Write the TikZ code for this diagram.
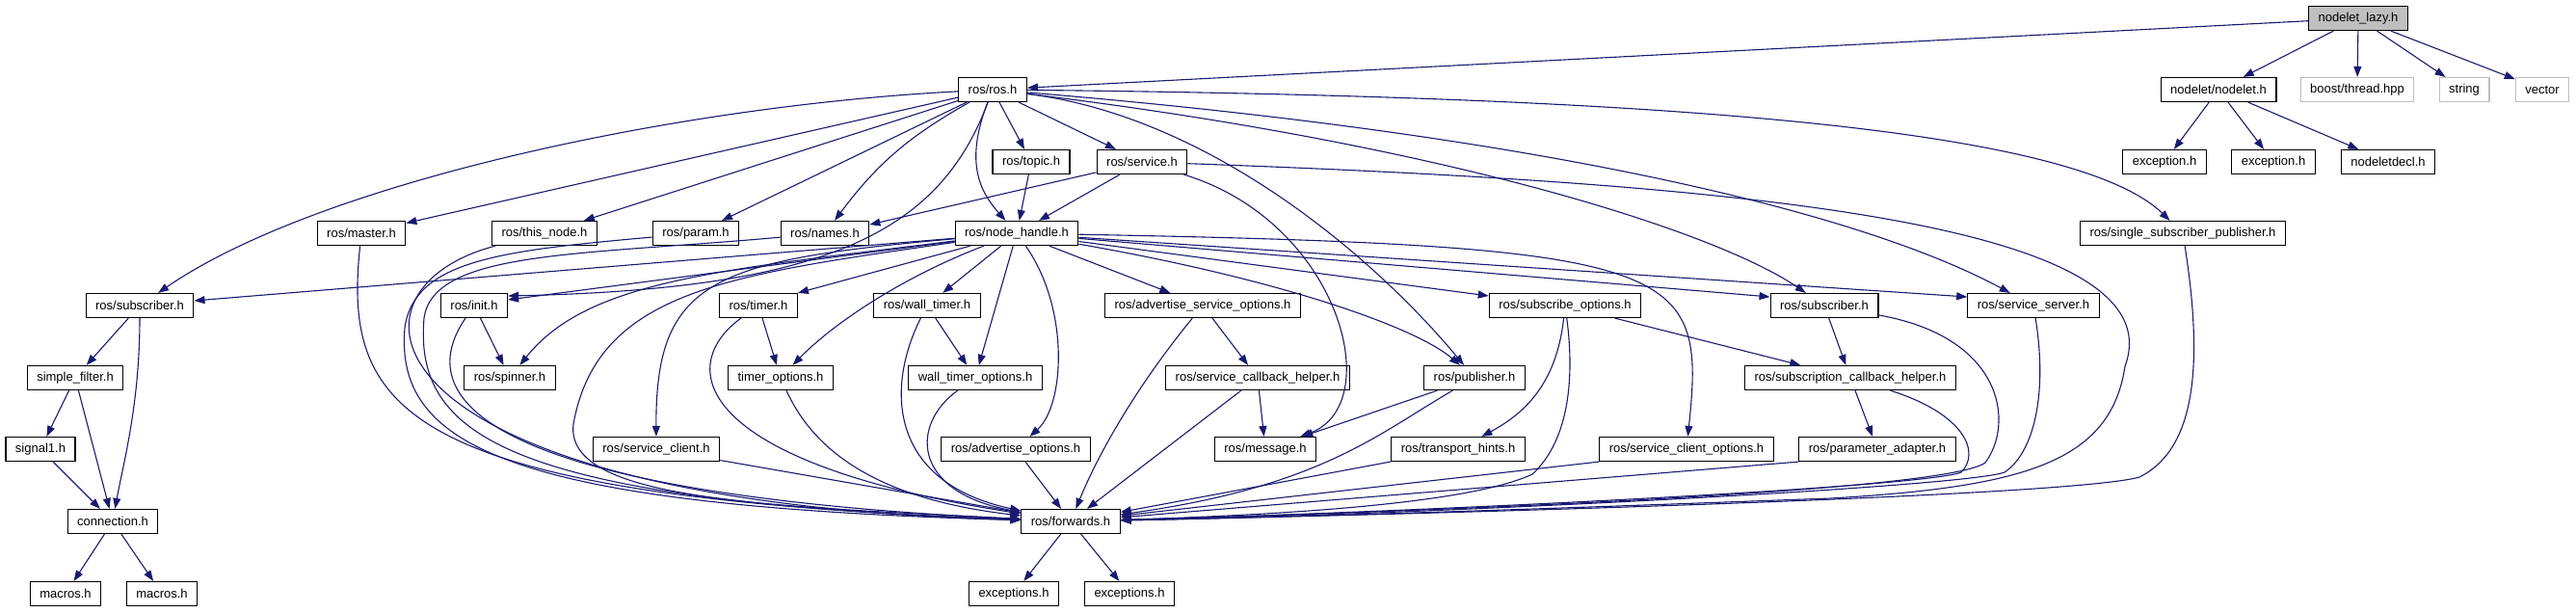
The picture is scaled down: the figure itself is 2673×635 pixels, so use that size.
\documentclass[tikz,border=0pt]{standalone}
\usepackage{fontspec}
\setmainfont{Liberation Sans}
\usetikzlibrary{arrows.meta}
\definecolor{edgeblue}{HTML}{191970}
\definecolor{boxgray}{HTML}{BFBFBF}
\begin{document}
\begin{tikzpicture}[x=1pt,y=1pt,
    file/.style={draw=black,line width=1.2pt,fill=white,inner xsep=10pt,inner ysep=0pt,minimum height=25pt,font=\fontsize{13}{15}\selectfont},
    extfile/.style={file,draw=boxgray},
    mainfile/.style={file,fill=boxgray},
    inc/.style={draw=edgeblue,line width=1.1pt,-{Triangle[length=11pt,width=8pt]}}]
    \useasboundingbox (0,0) rectangle (2673,-635);
    \node[mainfile] (lazy) at (2447,-19) {nodelet\_lazy.h};
    \node[file] (ros) at (1030,-93) {ros/ros.h};
    \node[file] (nodelet) at (2302,-93) {nodelet/nodelet.h};
    \node[extfile] (thread) at (2446,-93) {boost/thread.hpp};
    \node[extfile] (string) at (2557,-93) {string};
    \node[extfile] (vector) at (2638,-93) {vector};
    \node[file] (topic) at (1070,-168) {ros/topic.h};
    \node[file] (service) at (1185,-168) {ros/service.h};
    \node[file] (exca) at (2246,-168) {exception.h};
    \node[file] (excb) at (2359,-168) {exception.h};
    \node[file] (decl) at (2478,-168) {nodeletdecl.h};
    \node[file] (master) at (375,-242) {ros/master.h};
    \node[file] (thisnode) at (565,-242) {ros/this\_node.h};
    \node[file] (param) at (722,-242) {ros/param.h};
    \node[file] (names) at (856,-242) {ros/names.h};
    \node[file] (nh) at (1055,-242) {ros/node\_handle.h};
    \node[file] (ssp) at (2265,-242) {ros/single\_subscriber\_publisher.h};
    \node[file] (subl) at (145,-317) {ros/subscriber.h};
    \node[file] (init) at (492,-317) {ros/init.h};
    \node[file] (timer) at (787,-317) {ros/timer.h};
    \node[file] (walltimer) at (962,-317) {ros/wall\_timer.h};
    \node[file] (aso) at (1248,-317) {ros/advertise\_service\_options.h};
    \node[file] (subopt) at (1624,-317) {ros/subscribe\_options.h};
    \node[file] (subr) at (1893,-317) {ros/subscriber.h};
    \node[file] (server) at (2110,-317) {ros/service\_server.h};
    \node[file] (sfilter) at (78,-392) {simple\_filter.h};
    \node[file] (spinner) at (529,-392) {ros/spinner.h};
    \node[file] (timeropt) at (810,-392) {timer\_options.h};
    \node[file] (walltimeropt) at (1012,-392) {wall\_timer\_options.h};
    \node[file] (sch) at (1305,-392) {ros/service\_callback\_helper.h};
    \node[file] (pub) at (1530,-392) {ros/publisher.h};
    \node[file] (subcb) at (1920,-392) {ros/subscription\_callback\_helper.h};
    \node[file] (signal) at (42,-466) {signal1.h};
    \node[file] (client) at (681,-466) {ros/service\_client.h};
    \node[file] (advopt) at (1054,-466) {ros/advertise\_options.h};
    \node[file] (message) at (1313,-466) {ros/message.h};
    \node[file] (hints) at (1513,-466) {ros/transport\_hints.h};
    \node[file] (clientopt) at (1750,-466) {ros/service\_client\_options.h};
    \node[file] (padapter) at (1948,-466) {ros/parameter\_adapter.h};
    \node[file] (connection) at (117,-541) {connection.h};
    \node[file] (forwards) at (1111,-541) {ros/forwards.h};
    \node[file] (macrosa) at (68,-616) {macros.h};
    \node[file] (macrosb) at (168,-616) {macros.h};
    \node[file] (excsa) at (1052,-616) {exceptions.h};
    \node[file] (excsb) at (1172,-616) {exceptions.h};
    \draw[inc] (lazy) -- (ros);
    \draw[inc] (lazy) -- (nodelet);
    \draw[inc] (lazy) -- (thread);
    \draw[inc] (lazy) -- (string);
    \draw[inc] (lazy) -- (vector);
    \draw[inc] (nodelet) -- (exca);
    \draw[inc] (nodelet) -- (excb);
    \draw[inc] (nodelet) -- (decl);
    \draw[inc] (ros) .. controls (700,-110) and (330,-190) .. (subl);
    \draw[inc] (ros) -- (master);
    \draw[inc] (ros) -- (thisnode);
    \draw[inc] (ros) -- (param);
    \draw[inc] (ros) to[bend right=12] (names);
    \draw[inc] (ros) .. controls (975,-240) and (860,-300) .. ([yshift=10]init.east);
    \draw[inc] (ros) .. controls (1000,-170) and (1018,-200) .. (nh);
    \draw[inc] (ros) -- (topic);
    \draw[inc] (ros) -- (service);
    \draw[inc] (ros) .. controls (1250,-120) and (1420,-260) .. (pub);
    \draw[inc] (ros) .. controls (1500,-150) and (1780,-240) .. (subr);
    \draw[inc] (ros) .. controls (1600,-140) and (1930,-220) .. (server);
    \draw[inc] (ros) .. controls (1700,-100) and (2150,-130) .. (ssp);
    \draw[inc] (topic) -- (nh);
    \draw[inc] (service) -- ([yshift=9]names.east);
    \draw[inc] (service) -- (nh);
    \draw[inc] (service) .. controls (1390,-230) and (1440,-420) .. (message);
    \draw[inc] (service) .. controls (1800,-190) and (2260,-230) .. (2205,-380) .. controls (2190,-480) and (2100,-505) .. (1900,-517) .. controls (1600,-528) and (1400,-535) .. (forwards);
    \draw[inc] (master) .. controls (355,-430) and (420,-515) .. (forwards);
    \draw[inc] (thisnode) .. controls (340,-300) and (370,-520) .. (forwards);
    \draw[inc] (param) .. controls (520,-260) and (430,-270) .. (420,-340) .. controls (410,-460) and (520,-525) .. (forwards);
    \draw[inc] (names) .. controls (600,-265) and (450,-260) .. (440,-330) .. controls (430,-450) and (520,-520) .. (forwards);
    \draw[inc] (nh) -- ([yshift=5]subl.east);
    \draw[inc] (nh) -- ([yshift=6]init.east);
    \draw[inc] (nh) .. controls (750,-280) and (610,-290) .. (spinner);
    \draw[inc] (nh) -- (timer.north east);
    \draw[inc] (nh) .. controls (930,-290) and (860,-340) .. (timeropt);
    \draw[inc] (nh) -- (walltimer);
    \draw[inc] (nh) -- (walltimeropt);
    \draw[inc] (nh) .. controls (740,-270) and (680,-290) .. (client);
    \draw[inc] (nh) .. controls (1110,-320) and (1105,-420) .. (advopt);
    \draw[inc] (nh) -- (aso);
    \draw[inc] (nh) .. controls (1330,-290) and (1470,-340) .. (pub);
    \draw[inc] (nh) -- ([yshift=10]subopt.west);
    \draw[inc] (nh) -- ([yshift=9]subr.west);
    \draw[inc] (nh) .. controls (1750,-255) and (1770,-275) .. (clientopt);
    \draw[inc] (nh) -- ([yshift=9]server.west);
    \draw[inc] (nh) .. controls (760,-285) and (620,-300) .. (595,-440) .. controls (585,-520) and (800,-525) .. (forwards);
    \draw[inc] (init) -- (spinner);
    \draw[inc] (init) .. controls (435,-400) and (460,-510) .. (forwards);
    \draw[inc] (timer) -- (timeropt);
    \draw[inc] (timer) .. controls (700,-380) and (720,-480) .. (forwards);
    \draw[inc] (timeropt) .. controls (850,-480) and (930,-520) .. (forwards);
    \draw[inc] (walltimer) -- (walltimeropt);
    \draw[inc] (walltimer) .. controls (920,-400) and (920,-500) .. (forwards);
    \draw[inc] (walltimeropt) .. controls (945,-440) and (945,-510) .. (forwards);
    \draw[inc] (client) -- (forwards);
    \draw[inc] (advopt) -- (forwards);
    \draw[inc] (aso) -- (sch);
    \draw[inc] (aso) .. controls (1180,-400) and (1140,-470) .. (forwards);
    \draw[inc] (sch) -- (message);
    \draw[inc] (sch) -- (forwards);
    \draw[inc] (pub) -- (message);
    \draw[inc] (pub) .. controls (1430,-450) and (1370,-505) .. (forwards);
    \draw[inc] (subopt) .. controls (1615,-400) and (1580,-430) .. (hints);
    \draw[inc] (subopt) -- (subcb);
    \draw[inc] (subopt) .. controls (1635,-400) and (1625,-460) .. (1590,-492) .. controls (1520,-525) and (1300,-535) .. (forwards);
    \draw[inc] (hints) -- (forwards);
    \draw[inc] (clientopt.south west) -- (forwards);
    \draw[inc] (subr) -- (subcb);
    \draw[inc] (subr) .. controls (2080,-350) and (2090,-440) .. (2060,-480) .. controls (2020,-510) and (1500,-530) .. (forwards);
    \draw[inc] (subcb) -- (padapter);
    \draw[inc] (subcb) .. controls (2040,-430) and (2055,-470) .. (2035,-490) .. controls (2000,-505) and (1500,-530) .. (forwards);
    \draw[inc] (padapter.south west) -- (forwards);
    \draw[inc] (server) .. controls (2125,-410) and (2110,-470) .. (2080,-490) .. controls (2040,-505) and (1500,-533) .. (forwards);
    \draw[inc] (ssp) .. controls (2290,-400) and (2270,-470) .. (2220,-495) .. controls (2150,-515) and (1500,-533) .. (forwards);
    \draw[inc] (subl) -- (sfilter);
    \draw[inc] (subl) .. controls (145,-420) and (128,-480) .. (connection);
    \draw[inc] (sfilter) -- (signal);
    \draw[inc] (sfilter) -- (connection);
    \draw[inc] (signal) -- (connection);
    \draw[inc] (connection) -- (macrosa);
    \draw[inc] (connection) -- (macrosb);
    \draw[inc] (forwards) -- (excsa);
    \draw[inc] (forwards) -- (excsb);
\end{tikzpicture}
\end{document}
